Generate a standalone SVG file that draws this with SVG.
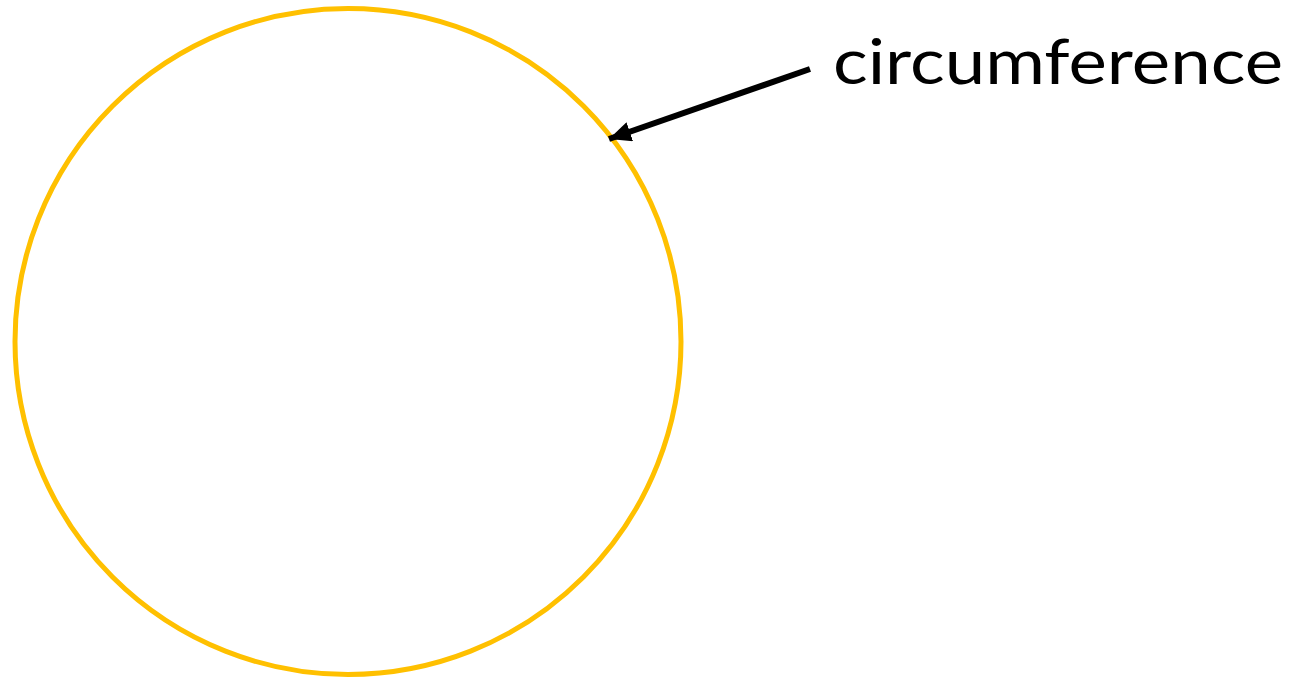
<svg xmlns="http://www.w3.org/2000/svg" width="1309" height="678" viewBox="0 0 1309 678">
<style>
.circle{fill:none;stroke:#FFC000;stroke-width:5}
.conn{stroke:#000;stroke-width:6;fill:none}
.label{font-family:"Lato","Liberation Sans",sans-serif;font-size:62px;fill:#000}
</style>
<defs>
<marker id="ah" markerUnits="userSpaceOnUse" markerWidth="24" markerHeight="20" refX="22" refY="10" orient="auto">
<path d="M0,0 L22,10 L0,20 Z" fill="#000"/>
</marker>
</defs>
<rect width="1309" height="678" fill="#fff"/>
<g id="circle-node">
<circle class="circle" cx="348" cy="341.5" r="333"/>
</g>
<g id="label-node">
<text class="label" x="833" y="84" textLength="450" lengthAdjust="spacingAndGlyphs">circumference</text>
</g>
<g id="connectors">
<line class="conn" x1="810" y1="69" x2="609" y2="139" marker-end="url(#ah)"/>
</g>
</svg>
